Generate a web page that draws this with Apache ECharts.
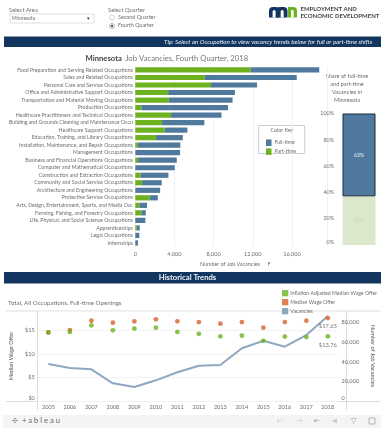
<!DOCTYPE html>
<html><head><meta charset="utf-8">
<style>html,body{margin:0;padding:0;background:#fff}#c{width:384px;height:433px;filter:blur(0.45px)}</style>
<script src="https://cdn.jsdelivr.net/npm/echarts@6/dist/echarts.min.js"></script>
</head><body><div id="c"></div>
<script>
const occupations=["Food Preparation and Serving Related Occupations","Sales and Related Occupations","Personal Care and Service Occupations","Office and Administrative Support Occupations","Transportation and Material Moving Occupations","Production Occupations","Healthcare Practitioners and Technical Occupations","Building and Grounds Cleaning and Maintenance Occu","Healthcare Support Occupations","Education, Training, and Library Occupations","Installation, Maintenance, and Repair Occupations","Management Occupations","Business and Financial Operations Occupations","Computer and Mathematical Occupations","Construction and Extraction Occupations","Community and Social Service Occupations","Architecture and Engineering Occupations","Protective Service Occupations","Arts, Design, Entertainment, Sports, and Media Occ","Farming, Fishing, and Forestry Occupations","Life, Physical, and Social Science Occupations","Apprenticeships","Legal Occupations","Internships"];
const partTime=[11750,7090,7730,3350,3420,620,3650,2730,3000,2120,250,0,280,0,520,690,0,1480,420,620,0,150,0,0];
const totalVacancies=[18780,16480,12430,10170,9930,9460,8800,7050,5320,4850,4600,4570,4230,4030,3380,2700,2530,2300,1200,1070,1030,450,410,280];
const fullTime=totalVacancies.map((t,i)=>t-partTime[i]);
const sharePart=[37];
const shareFull=[63];
const years=["2005","2006","2007","2008","2009","2010","2011","2012","2013","2014","2015","2016","2017","2018"];
const adjustedWage=[14.6,14.7,16.1,15.04,15.4,15.6,14.7,14.3,13.76,13.9,12.8,13.7,13.6,13.76];
const medianWage=[14.6,15.1,17.1,16.66,16.96,17.38,16.96,16.8,16.45,16.8,15.6,16.8,17.1,17.65];
const vacancies=[37750,33700,32300,18000,14300,21100,29300,36000,36700,53800,61500,55400,67300,86700];

const BLUE='#4f7a9e',GREEN='#6cb21f',ORANGE='#d9632c',LINE='#8fa8bf',NAVY='#12365f',TXT='#6e6e6e';
const F='Lato';
const WMAX=19.15,VMAX=91800;
const txt=(x,y,s,o={})=>({type:'text',x,y,silent:true,style:Object.assign({text:s,fill:TXT,font:'5.4px '+F},o)});
const rect=(x,y,w,h,fill,o={},r)=>({type:'rect',silent:true,shape:{x,y,width:w,height:h,r:r||0},style:Object.assign({fill},o)});
const line=(x1,y1,x2,y2,c='#dcdcdc')=>({type:'line',silent:true,shape:{x1,y1,x2,y2},style:{stroke:c,lineWidth:1}});
const ring=(x,y,r,o)=>({type:'circle',silent:true,shape:{cx:x,cy:y,r},style:o});
const shiftZero=(s,max)=>({formatter:v=>v===max?'':(v===0?'{z|'+s(v)+'}':s(v)),rich:{z:{padding:[0,0,6,0],fontSize:5.4,fontFamily:F,color:TXT}}});

const chart=echarts.init(document.getElementById('c'),null,{renderer:'canvas'});
chart.setOption({
 animation:false,backgroundColor:'#fff',
 grid:[
  {left:135.3,top:66.2,width:192,height:180.5},
  {left:342,top:113.5,width:34,height:131.5},
  {left:37,top:311,width:309.4,height:90}
 ],
 xAxis:[
  {gridIndex:0,type:'value',min:0,max:19600,interval:4000,axisLine:{show:false},axisTick:{show:false},splitLine:{lineStyle:{color:'#f1f1f1',width:1}},axisLabel:{color:TXT,fontFamily:F,fontSize:5.6,margin:4,formatter:v=>v>=19600?'':v.toLocaleString('en-US')}},
  {gridIndex:1,type:'category',data:['Share'],show:false},
  {gridIndex:2,type:'category',data:years,axisLine:{show:false},axisTick:{show:false},axisLabel:{color:TXT,fontFamily:F,fontSize:5.6,margin:3}}
 ],
 yAxis:[
  {gridIndex:0,type:'category',data:occupations,inverse:true,axisLine:{show:false},axisTick:{show:false},axisLabel:{color:TXT,fontFamily:F,fontSize:5.2,margin:2.5}},
  {gridIndex:1,type:'value',min:0,max:100,interval:20,axisLine:{show:false},axisTick:{show:false},splitLine:{show:false},axisLabel:Object.assign({color:TXT,fontFamily:F,fontSize:5.4,margin:8},{formatter:v=>v===0?'{z|0%}':v+'%',rich:{z:{padding:[0,0,6,0],fontSize:5.4,fontFamily:F,color:TXT}}})},
  {gridIndex:2,type:'value',min:0,max:WMAX,interval:5,axisLine:{show:false},axisTick:{show:false},splitLine:{lineStyle:{color:'#f2f2f2'}},axisLabel:Object.assign({color:TXT,fontFamily:F,fontSize:5.6,margin:3},shiftZero(v=>'$'+v,WMAX)),name:'Median Wage Offer',nameLocation:'middle',nameGap:22,nameTextStyle:{color:'#555',fontFamily:F,fontSize:5.6}},
  {gridIndex:2,type:'value',position:'right',min:0,max:VMAX,interval:20000,axisLine:{show:false},axisTick:{show:false},splitLine:{show:false},axisLabel:Object.assign({color:TXT,fontFamily:F,fontSize:5.6,margin:3},shiftZero(v=>v.toLocaleString('en-US'),VMAX)),name:'Number of Job Vacancies',nameLocation:'middle',nameGap:29,nameRotate:-90,nameTextStyle:{color:'#555',fontFamily:F,fontSize:5.6}}
 ],
 legend:[
  {show:true,data:['Full-time','Part-time'],left:261,top:134.5,orient:'vertical',itemWidth:5.5,itemHeight:6.5,itemGap:2.4,textStyle:{color:TXT,fontFamily:F,fontSize:5.2,padding:[0,0,0,-2]},icon:'rect',selectedMode:false},
  {show:true,data:['Inflation Adjusted Median Wage Offer','Median Wage Offer','Vacancies'],left:277,top:285,orient:'vertical',itemWidth:6.3,itemHeight:6.3,itemGap:2.7,textStyle:{color:TXT,fontFamily:F,fontSize:5.2,padding:[0,0,0,-3]},icon:'rect',selectedMode:false}
 ],
 series:[
  {name:'Part-time',type:'bar',xAxisIndex:0,yAxisIndex:0,stack:'v',barWidth:5.2,data:partTime,itemStyle:{color:GREEN},silent:true},
  {name:'Full-time',type:'bar',xAxisIndex:0,yAxisIndex:0,stack:'v',barWidth:5.2,data:fullTime,itemStyle:{color:BLUE},silent:true},
  {name:'Share part',type:'bar',xAxisIndex:1,yAxisIndex:1,stack:'s',barWidth:33,data:sharePart,itemStyle:{color:'#dbe8cb'},label:{show:true,position:'inside',formatter:'{c}%',color:'#c3d7ab',fontSize:5.4,fontFamily:F},silent:true},
  {name:'Share full',type:'bar',xAxisIndex:1,yAxisIndex:1,stack:'s',barWidth:33,data:shareFull,itemStyle:{color:BLUE,borderColor:'#1b2b38',borderWidth:1},label:{show:true,position:'inside',formatter:'{c}%',color:'#e6eef4',fontSize:5.4,fontFamily:F},silent:true},
  {name:'Vacancies',type:'line',xAxisIndex:2,yAxisIndex:3,data:vacancies,symbol:'none',lineStyle:{color:LINE,width:2},itemStyle:{color:LINE},silent:true,z:2},
  {name:'Median Wage Offer',type:'scatter',xAxisIndex:2,yAxisIndex:2,data:medianWage,symbolSize:4.8,itemStyle:{color:ORANGE},z:3,silent:true,
   label:{show:true,color:'#555',fontFamily:F,fontSize:5.8,position:'bottom',distance:1,formatter:p=>p.dataIndex===13?'$'+p.value.toFixed(2):''},labelLayout:{dy:2}},
  {name:'Inflation Adjusted Median Wage Offer',type:'scatter',xAxisIndex:2,yAxisIndex:2,data:adjustedWage,symbolSize:4.8,itemStyle:{color:GREEN},z:4,silent:true,
   label:{show:true,color:'#555',fontFamily:F,fontSize:5.8,position:'bottom',distance:1,formatter:p=>p.dataIndex===13?'$'+p.value.toFixed(2):''},labelLayout:{dy:2}}
 ],
 graphic:{elements:[
  txt(9,7,'Select Area',{font:'5.8px '+F}),
  rect(10,14,84,9,'#fff',{stroke:'#c9c9c9',lineWidth:0.6}),
  txt(12,16,'Minnesota',{font:'5px '+F}),
  txt(87,16,'▾',{font:'5px '+F,fill:'#333'}),
  txt(108,7,'Select Quarter',{font:'5.8px '+F}),
  ring(112,17.5,2.5,{fill:'#fff',stroke:'#bbb',lineWidth:0.6}),
  txt(118,14.7,'Second Quarter',{font:'5.4px '+F}),
  ring(112,26,2.5,{fill:'#fff',stroke:'#888',lineWidth:0.6}),
  ring(112,26,1.2,{fill:'#555'}),
  txt(118,23.2,'Fourth Quarter',{font:'5.4px '+F}),
  // logo
  rect(269,7,10.5,10.5,NAVY,{},[4,4,0,0]),
  rect(276,7,11.5,10.5,NAVY,{},[4,4,0,0]),
  rect(272.6,10,3,7.5,'#fff',{},[1.5,1.5,0,0]),
  rect(280.7,10,3,7.5,'#fff',{},[1.5,1.5,0,0]),
  rect(288,7,9,10.5,GREEN,{},[0,4,0,0]),
  rect(291,10,2.7,7.5,'#fff',{},[1,1,0,0]),
  txt(300.5,6.3,'EMPLOYMENT AND',{font:'bold 6px '+F,fill:'#444'}),
  txt(300.5,13,'ECONOMIC DEVELOPMENT',{font:'bold 6px '+F,fill:'#444'}),
  // bands
  rect(4,36.5,377,10.5,NAVY),
  txt(164,38.6,'Tip: Select an Occupation to view vacancy trends below for full or part-time shifts',{font:'italic 6.2px '+F,fill:'#e8edf2'}),
  rect(4,272,377,11.5,NAVY),
  txt(187.5,274,'Historical Trends',{font:'bold 7.7px '+F,fill:'#f0f3f6',align:'center'}),
  // titles
  {type:'text',silent:true,x:85.5,y:53,style:{rich:{a:{font:'bold 7.7px '+F,fill:'#444'},b:{font:'7.7px '+F,fill:'#777'}},text:'{a|Minnesota} {b|Job Vacancies, Fourth Quarter, 2018}'}},
  txt(347,72,'Share of full-time\nand part-time\nVacancies in\nMinnesota',{font:'5.6px '+F,align:'center',lineHeight:8}),
  txt(200,262,'Number of Job Vacancies',{font:'5.4px '+F}),
  txt(267.5,262,'F',{font:'5.4px '+F}),
  rect(258.7,125.5,46,28,'rgba(255,255,255,0)',{stroke:'#b9c3cc',lineWidth:0.8}),
  txt(282,127.5,'Color Key',{font:'5.4px '+F,align:'center'}),
  // trend panel
  txt(8,300.3,'Total, All Occupations, Full-time Openings',{font:'6.2px '+F}),
  line(6,311,380,311),
  line(37.5,311,37.5,410),
  line(346.5,311,346.5,410),
  line(6,401.5,380,401.5),
  // footer
  rect(3,415,378,13,'#f4f4f4'),
  txt(15,421,'✣',{font:'7px '+F,fill:'#888',verticalAlign:'middle',align:'center'}),
  txt(22,421,'+ a b l e a u',{font:'7.6px '+F,fill:'#666',verticalAlign:'middle'}),
  txt(280,421,'←',{font:'7px '+F,fill:'#ccc',verticalAlign:'middle',align:'center'}),
  txt(299,421,'→',{font:'7px '+F,fill:'#ccc',verticalAlign:'middle',align:'center'}),
  txt(317,421,'⇤',{font:'7px '+F,fill:'#999',verticalAlign:'middle',align:'center'}),
  txt(335,421,'⋖',{font:'7px '+F,fill:'#999',verticalAlign:'middle',align:'center'}),
  txt(353,421,'▽',{font:'7px '+F,fill:'#999',verticalAlign:'middle',align:'center'}),
  rect(369,418,6,6,'none',{stroke:'#999',lineWidth:0.7})
 ]}
});
</script></body></html>
